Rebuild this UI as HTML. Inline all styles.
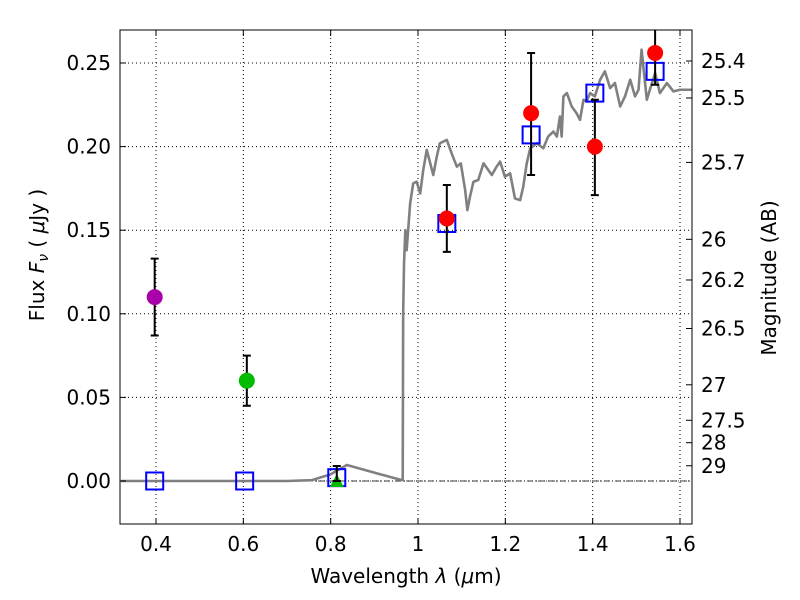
<!DOCTYPE html>
<html><head><meta charset="utf-8"><style>body{margin:0;background:#fff}svg{display:block;font-family:"DejaVu Sans","Liberation Sans",sans-serif}</style></head>
<body>
<svg id="chart" width="800" height="600" viewBox="0 0 800 600">
<defs><clipPath id="pc"><rect x="120" y="30" width="572" height="494"/></clipPath></defs>
<g id="plot" clip-path="url(#pc)"></g>
</svg>
<script>
const specWl=[0.32,0.5,0.7,0.757,0.8,0.837,0.9,0.962,0.965,0.966,0.968,0.971,0.974,0.982,0.989,0.997,1.005,1.012,1.020,1.028,1.035,1.043,1.050,1.066,1.077,1.089,1.098,1.108,1.113,1.119,1.127,1.138,1.150,1.161,1.169,1.180,1.188,1.199,1.211,1.222,1.234,1.241,1.249,1.257,1.272,1.287,1.298,1.310,1.318,1.325,1.329,1.333,1.341,1.352,1.363,1.371,1.379,1.386,1.394,1.405,1.417,1.428,1.440,1.451,1.463,1.474,1.486,1.497,1.505,1.512,1.524,1.531,1.543,1.554,1.570,1.585,1.600,1.627];
const specFlux=[0,0,0,0.0005,0.004,0.0096,0.005,0.0006,0.0006,0.1,0.13,0.15,0.138,0.166,0.178,0.179,0.172,0.186,0.198,0.190,0.183,0.194,0.202,0.204,0.196,0.188,0.190,0.174,0.162,0.170,0.179,0.180,0.190,0.186,0.183,0.188,0.191,0.182,0.184,0.169,0.168,0.176,0.190,0.199,0.202,0.199,0.206,0.209,0.206,0.218,0.206,0.230,0.232,0.224,0.220,0.216,0.228,0.227,0.232,0.230,0.240,0.245,0.235,0.238,0.224,0.230,0.240,0.230,0.234,0.258,0.228,0.234,0.244,0.232,0.238,0.233,0.234,0.234];
const obsWl=[0.397,0.608,1.066,1.259,1.405,1.543];
const obsFlux=[0.110,0.060,0.157,0.220,0.200,0.256];
const obsErrLo=[0.023,0.015,0.020,0.037,0.029,0.019];
const obsErrHi=[0.023,0.015,0.020,0.036,0.028,0.03];
const obsColors=["#aa00aa","#00bb00","#ff0000","#ff0000","#ff0000","#ff0000"];
const modelWl=[0.397,0.603,0.814,1.066,1.259,1.405,1.543];
const modelFlux=[0,0,0.002,0.154,0.207,0.232,0.245];
const triWl=[0.814];const triFlux=[0.0];const triErr=[0.009];
const xTicks=[0.4,0.6,0.8,1.0,1.2,1.4,1.6];
const xTickLabels=["0.4","0.6","0.8","1","1.2","1.4","1.6"];
const yTicks=[0,0.05,0.10,0.15,0.20,0.25];
const yTickLabels=["0.00","0.05","0.10","0.15","0.20","0.25"];
const magTicks=[25.4,25.5,25.7,26,26.2,26.5,27,27.5,28,29];
const magLabels=["25.4","25.5","25.7","26","26.2","26.5","27","27.5","28","29"];

const L=120,R=692,T=30,B=524;
const X=v=>156+(v-0.4)*436.67;
const Y=v=>481-v*1672;
const svg=document.getElementById('chart');
const plot=document.getElementById('plot');
const NS='http://www.w3.org/2000/svg';
function mk(tag,attrs,parent){const e=document.createElementNS(NS,tag);for(const k in attrs)e.setAttribute(k,attrs[k]);(parent||svg).appendChild(e);return e;}
xTicks.forEach((t,i)=>{const l=mk('line',{x1:X(t),x2:X(t),y1:T,y2:B,stroke:'#000','stroke-width':1,'stroke-dasharray':'1,3'},plot);

});
yTicks.forEach(t=>{const l=mk('line',{x1:L,x2:R,y1:Y(t),y2:Y(t),stroke:'#000','stroke-width':1,'stroke-dasharray':'1,3'},plot);

});
const z=mk('line',{x1:L,x2:R,y1:Y(0),y2:Y(0),stroke:'#000','stroke-width':0.8,'stroke-dasharray':'6,2,1,2'},plot);


const sp=mk('polyline',{points:specWl.map((w,i)=>X(w)+','+Y(specFlux[i])).join(' '),fill:'none',stroke:'#808080','stroke-width':2.6,'stroke-linejoin':'round'},plot);


modelWl.forEach((w,i)=>{const r=mk('rect',{x:X(w)-8.5,y:Y(modelFlux[i])-8.5,width:17,height:17,fill:'none',stroke:'#0000ff','stroke-width':2},plot);

});
triWl.forEach((w,i)=>{const cx=X(w),cy=Y(triFlux[i]);
const p=mk('polygon',{points:`${cx-7},${cy+6} ${cx+7},${cy+6} ${cx},${cy-7}`,fill:'#00bb00'},plot);


const e=mk('path',{d:`M${cx},${cy} V${Y(triFlux[i]+triErr[i])} M${cx-4},${Y(triFlux[i]+triErr[i])} h8 M${cx-4},${cy} h8`,stroke:'#000','stroke-width':2,fill:'none'},plot);

});
obsWl.forEach((w,i)=>{const cx=X(w),y1=Y(obsFlux[i]+obsErrHi[i]),y2=Y(obsFlux[i]-obsErrLo[i]);
const e=mk('path',{d:`M${cx},${y1} V${y2} M${cx-4},${y1} h8 M${cx-4},${y2} h8`,stroke:'#000','stroke-width':2,fill:'none'},plot);


const c=mk('circle',{cx:cx,cy:Y(obsFlux[i]),r:8,fill:obsColors[i]},plot);

});
const fr=mk('rect',{x:L,y:T,width:R-L,height:B-T,fill:'none',stroke:'#000','stroke-width':1});


xTicks.forEach((t,i)=>{mk('line',{x1:X(t),x2:X(t),y1:B,y2:B-6,stroke:'#000'});mk('line',{x1:X(t),x2:X(t),y1:T,y2:T+6,stroke:'#000'});
const tx=mk('text',{x:X(t),y:B+27,'text-anchor':'middle','font-size':20});tx.textContent=xTickLabels[i];

});
yTicks.forEach((t,i)=>{mk('line',{x1:L,x2:L+6,y1:Y(t),y2:Y(t),stroke:'#000'});
const tx=mk('text',{x:L-9,y:Y(t)+7,'text-anchor':'end','font-size':20});tx.textContent=yTickLabels[i];

});
magTicks.forEach((m,i)=>{const y=Y(Math.pow(10,(23.9-m)/2.5));mk('line',{x1:R,x2:R-6,y1:y,y2:y,stroke:'#000'});
const tx=mk('text',{x:R+9,y:y+7,'font-size':20});tx.textContent=magLabels[i];

});
</script>
<div style="position:absolute;left:0;top:0;width:800px;height:600px;pointer-events:none">
<svg width="800" height="600" style="font-family:'DejaVu Sans','Liberation Sans',sans-serif">
<text x="406" y="583" text-anchor="middle" font-size="20">Wavelength  <tspan font-style="italic">λ</tspan> (<tspan font-style="italic">μ</tspan>m)</text>
<text transform="translate(44,255) rotate(-90)" text-anchor="middle" font-size="20">Flux  <tspan font-style="italic">F</tspan><tspan font-style="italic" font-size="14" dy="4">ν</tspan><tspan dy="-4">  ( </tspan><tspan font-style="italic">μ</tspan>Jy )</text>
<text transform="translate(776,278) rotate(-90)" text-anchor="middle" font-size="20">Magnitude (AB)</text>
</svg></div>
</body></html>
